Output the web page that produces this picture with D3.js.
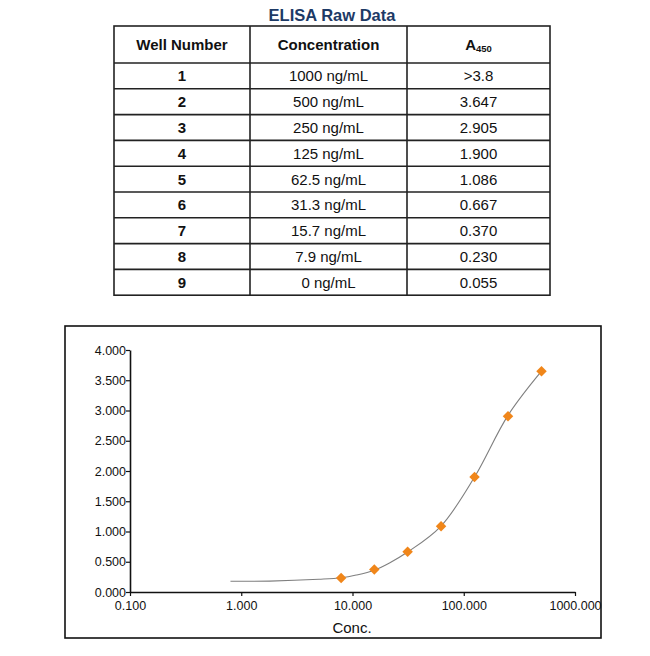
<!DOCTYPE html>
<html>
<head>
<meta charset="utf-8">
<script src="https://cdn.jsdelivr.net/npm/d3@7"></script>
<style>
  html, body { margin: 0; padding: 0; background: #fff; }
  svg { display: block; font-family: "Liberation Sans", Arial, sans-serif; }
</style>
</head>
<body>
<div id="chart"></div>
<script>
// ---- data ----
const wellNumbers = ['1', '2', '3', '4', '5', '6', '7', '8', '9'];
const concLabels = ['1000 ng/mL', '500 ng/mL', '250 ng/mL', '125 ng/mL', '62.5 ng/mL',
  '31.3 ng/mL', '15.7 ng/mL', '7.9 ng/mL', '0 ng/mL'];
const a450Labels = ['>3.8', '3.647', '2.905', '1.900', '1.086', '0.667', '0.370', '0.230', '0.055'];

// standards plotted on the curve
const stdConc = [500, 250, 125, 62.5, 31.3, 15.7, 7.9];
const stdA450 = [3.647, 2.905, 1.900, 1.086, 0.667, 0.370, 0.230];

// fitted curve
const fitConc = [0.8, 1.8, 5, 7.9, 10.8, 15.7, 21.5, 31.3, 62.5, 125, 250, 500];
const fitA450 = [0.177, 0.18, 0.21, 0.235, 0.28, 0.36, 0.48, 0.66, 1.09, 1.90, 2.92, 3.65];

const xTicks = [0.1, 1, 10, 100, 1000];
const yTicks = [0, 0.5, 1, 1.5, 2, 2.5, 3, 3.5, 4];

const W = 650, H = 656;
const svg = d3.select('#chart').append('svg')
  .attr('width', W)
  .attr('height', H);

// ---- table ----
const table = {left: 114, right: 550, top: 26, headH: 37, rowH: 25.8};
const colX = [table.left, 250, 407, table.right];
const tableBottom = table.top + table.headH + table.rowH * wellNumbers.length;

svg.append('text')
  .attr('x', 332)
  .attr('y', 21)
  .attr('text-anchor', 'middle')
  .attr('font-size', 16.5)
  .attr('font-weight', 'bold')
  .attr('fill', '#1d3a66')
  .text('ELISA Raw Data');

const tg = svg.append('g');
tg.append('rect')
  .attr('x', table.left).attr('y', table.top)
  .attr('width', table.right - table.left)
  .attr('height', tableBottom - table.top)
  .attr('fill', 'none').attr('stroke', '#222').attr('stroke-width', 1.6);

colX.slice(1, 3).forEach(x => {
  tg.append('line')
    .attr('x1', x).attr('x2', x)
    .attr('y1', table.top).attr('y2', tableBottom)
    .attr('stroke', '#222').attr('stroke-width', 1.6);
});

d3.range(wellNumbers.length).forEach(i => {
  const y = table.top + table.headH + table.rowH * i;
  tg.append('line')
    .attr('x1', table.left).attr('x2', table.right)
    .attr('y1', y).attr('y2', y)
    .attr('stroke', '#222').attr('stroke-width', 1.6);
});

const colMid = i => (colX[i] + colX[i + 1]) / 2;
const headY = table.top + table.headH / 2 + 5;

tg.append('text').attr('x', colMid(0)).attr('y', headY)
  .attr('text-anchor', 'middle').attr('font-size', 15).attr('font-weight', 'bold')
  .attr('fill', '#111').text('Well Number');
tg.append('text').attr('x', colMid(1)).attr('y', headY)
  .attr('text-anchor', 'middle').attr('font-size', 15).attr('font-weight', 'bold')
  .attr('fill', '#111').text('Concentration');
const aHead = tg.append('text').attr('x', colMid(2)).attr('y', headY)
  .attr('text-anchor', 'middle').attr('font-size', 15).attr('font-weight', 'bold')
  .attr('fill', '#111');
aHead.append('tspan').text('A');
aHead.append('tspan').attr('font-size', 9.5).attr('dy', 2).text('450');

wellNumbers.forEach((w, i) => {
  const y = table.top + table.headH + table.rowH * (i + 0.5) + 5.5;
  tg.append('text').attr('x', colMid(0)).attr('y', y)
    .attr('text-anchor', 'middle').attr('font-size', 15).attr('font-weight', 'bold')
    .attr('fill', '#111').text(w);
  tg.append('text').attr('x', colMid(1)).attr('y', y)
    .attr('text-anchor', 'middle').attr('font-size', 15)
    .attr('fill', '#111').text(concLabels[i]);
  tg.append('text').attr('x', colMid(2)).attr('y', y)
    .attr('text-anchor', 'middle').attr('font-size', 15)
    .attr('fill', '#111').text(a450Labels[i]);
});

// ---- chart ----
svg.append('rect')
  .attr('x', 65).attr('y', 326)
  .attr('width', 536).attr('height', 312)
  .attr('fill', 'none').attr('stroke', '#111').attr('stroke-width', 1.6);

const x = d3.scaleLog().domain([0.1, 1000]).range([130, 575]);
const y = d3.scaleLinear().domain([0, 4]).range([592, 350]);

const fmt = d3.format('.3f');

const xAxis = svg.append('g')
  .attr('transform', `translate(0,${y(0)})`)
  .call(d3.axisBottom(x).tickValues(xTicks).tickFormat(fmt).tickSize(4).tickSizeOuter(0));
const yAxis = svg.append('g')
  .attr('transform', `translate(${x(0.1)},0)`)
  .call(d3.axisLeft(y).tickValues(yTicks).tickFormat(fmt).tickSize(4).tickSizeOuter(0));

[xAxis, yAxis].forEach(ax => {
  ax.select('.domain').attr('stroke', '#111').attr('stroke-width', 1.6);
  ax.selectAll('.tick line').attr('stroke', '#111').attr('stroke-width', 1.2);
  ax.selectAll('.tick text')
    .attr('fill', '#111')
    .attr('font-size', 12.5)
    .attr('font-family', '"Liberation Sans", Arial, sans-serif');
});
xAxis.selectAll('.tick text').attr('dy', '0.95em').attr('y', 6);
yAxis.selectAll('.tick text').attr('x', -4);

svg.append('text')
  .attr('x', 352).attr('y', 633)
  .attr('text-anchor', 'middle')
  .attr('font-size', 15)
  .attr('fill', '#111')
  .text('Conc.');

const fit = fitConc.map((c, i) => [c, fitA450[i]]);
svg.append('path')
  .datum(fit)
  .attr('fill', 'none')
  .attr('stroke', '#7f7f7f')
  .attr('stroke-width', 1.1)
  .attr('d', d3.line()
    .x(d => x(d[0]))
    .y(d => y(d[1]))
    .curve(d3.curveCatmullRom.alpha(0.5)));

const pts = stdConc.map((c, i) => [c, stdA450[i]]);
svg.append('g').selectAll('path')
  .data(pts)
  .join('path')
  .attr('transform', d => `translate(${x(d[0])},${y(d[1])})`)
  .attr('d', d3.symbol(d3.symbolDiamond2, 70))
  .attr('fill', '#f0861a');
</script>
</body>
</html>
